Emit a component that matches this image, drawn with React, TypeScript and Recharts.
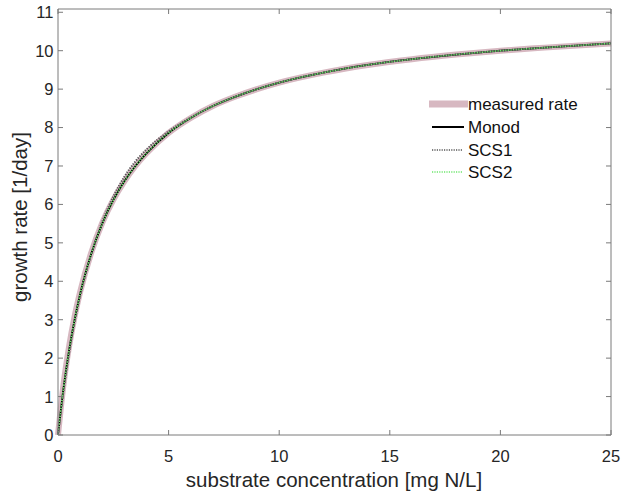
import * as React from "react";
import { Line, LineChart, XAxis, YAxis } from "recharts";

// substrate concentration [mg N/L]
const substrate = [0, 0.25, 0.5, 0.75, 1, 1.5, 2, 2.5, 3, 3.5, 4, 5, 6, 7, 8, 9, 10, 12, 14, 16, 18, 20, 22, 25];
// growth rates [1/day]
const measuredRate = [0, 1.32, 2.3, 3.08, 3.72, 4.74, 5.52, 6.12, 6.6, 7.0, 7.33, 7.86, 8.25, 8.56, 8.8, 9.0, 9.17, 9.43, 9.63, 9.78, 9.9, 10.0, 10.08, 10.19];
const monod = [0, 1.22, 2.2, 3.0, 3.67, 4.71, 5.5, 6.11, 6.6, 7.0, 7.33, 7.86, 8.25, 8.56, 8.8, 9.0, 9.17, 9.43, 9.63, 9.78, 9.9, 10.0, 10.08, 10.19];
const scs1 = [0, 1.15, 2.12, 2.95, 3.62, 4.7, 5.55, 6.2, 6.72, 7.12, 7.43, 7.9, 8.26, 8.56, 8.8, 9.0, 9.17, 9.43, 9.63, 9.78, 9.9, 10.0, 10.08, 10.19];
const scs2 = [0, 1.22, 2.2, 3.0, 3.67, 4.71, 5.5, 6.11, 6.6, 7.0, 7.33, 7.86, 8.25, 8.56, 8.8, 9.0, 9.17, 9.43, 9.63, 9.78, 9.9, 10.0, 10.08, 10.19];

const xTicks = [0, 5, 10, 15, 20, 25];
const yTicks = [0, 1, 2, 3, 4, 5, 6, 7, 8, 9, 10, 11];
const yMax = 11.085;

const data = substrate.map((s, i) => ({
  s,
  measured: measuredRate[i],
  monod: monod[i],
  scs1: scs1[i],
  scs2: scs2[i],
}));

const AXIS = "#7a7a7a";
const TEXT = "#262626";
const FONT = "'Liberation Sans', Arial, Helvetica, sans-serif";
const PINK = "#d7b8c1";

const BottomTick = (props: any) => {
  const { x, y, payload } = props;
  return (
    <g>
      <line x1={x} y1={y} x2={x} y2={y - 5} stroke={AXIS} strokeWidth={1} />
      <text x={x} y={y + 26.5} textAnchor="middle" fill={TEXT} fontSize={16.5} fontFamily={FONT}>
        {payload.value}
      </text>
    </g>
  );
};

const TopTick = (props: any) => {
  const { x, y } = props;
  return <line x1={x} y1={y} x2={x} y2={y + 5} stroke={AXIS} strokeWidth={1} />;
};

const LeftTick = (props: any) => {
  const { x, y, payload } = props;
  return (
    <g>
      <line x1={x} y1={y} x2={x + 5} y2={y} stroke={AXIS} strokeWidth={1} />
      <text x={x - 4.5} y={y} dy="0.36em" textAnchor="end" fill={TEXT} fontSize={16.5} fontFamily={FONT}>
        {payload.value}
      </text>
    </g>
  );
};

const RightTick = (props: any) => {
  const { x, y } = props;
  return <line x1={x} y1={y} x2={x - 5} y2={y} stroke={AXIS} strokeWidth={1} />;
};

const Overlay = () => {
  const items = [
    { name: "measured rate", color: PINK, width: 7, dash: undefined, x1: 429, x2: 468 },
    { name: "Monod", color: "#000", width: 2, dash: undefined, x1: 432, x2: 464 },
    { name: "SCS1", color: "#555", width: 1.5, dash: "1.2 1.2", x1: 432, x2: 462 },
    { name: "SCS2", color: "#6ee66e", width: 1.5, dash: "1.2 1.2", x1: 432, x2: 462 },
  ];
  const ys = [104, 127, 150, 172];
  return (
    <svg width={622} height={495} style={{ position: "absolute", left: 0, top: 0, pointerEvents: "none" }}>
      {items.map((it, i) => (
        <g key={it.name}>
          <line x1={it.x1} x2={it.x2} y1={ys[i]} y2={ys[i]} stroke={it.color} strokeWidth={it.width} strokeDasharray={it.dash} />
          <text x={468} y={ys[i]} dy="0.36em" fill="#111" fontSize={17} fontFamily={FONT}>
            {it.name}
          </text>
        </g>
      ))}
      <text x={334} y={486.5} textAnchor="middle" fill={TEXT} fontSize={20.5} fontFamily={FONT}>
        substrate concentration [mg N/L]
      </text>
      <text transform="translate(26.5,217) rotate(-90)" textAnchor="middle" fill={TEXT} fontSize={20.5} fontFamily={FONT}>
        growth rate [1/day]
      </text>
    </svg>
  );
};

export default function App() {
  return (
    <div style={{ position: "absolute", left: 0, top: 0, width: 622, height: 495, background: "#fff" }}>
      <LineChart width={622} height={495} data={data} margin={{ top: 8, right: 10, bottom: 0, left: 0 }}>
        <XAxis
          dataKey="s"
          type="number"
          domain={[0, 25]}
          ticks={xTicks}
          interval={0}
          height={60}
          tickSize={0}
          tickMargin={0}
          tickLine={false}
          stroke={AXIS}
          tick={<BottomTick />}
        />
        <XAxis
          xAxisId="top"
          dataKey="s"
          orientation="top"
          type="number"
          domain={[0, 25]}
          allowDataOverflow
          ticks={xTicks}
          interval={0}
          height={1}
          tickSize={0}
          tickMargin={0}
          tickLine={false}
          stroke={AXIS}
          tick={<TopTick />}
        />
        <YAxis
          type="number"
          domain={[0, yMax]}
          allowDataOverflow
          ticks={yTicks}
          interval={0}
          width={58}
          tickSize={0}
          tickMargin={0}
          tickLine={false}
          stroke={AXIS}
          tick={<LeftTick />}
        />
        <YAxis
          yAxisId="right"
          orientation="right"
          type="number"
          domain={[0, yMax]}
          allowDataOverflow
          ticks={yTicks}
          interval={0}
          width={1}
          tickSize={0}
          tickMargin={0}
          tickLine={false}
          stroke={AXIS}
          tick={<RightTick />}
        />
        <Line xAxisId="top" yAxisId="right" dataKey="monod" stroke="none" strokeWidth={0} dot={false} legendType="none" isAnimationActive={false} />
        <Line dataKey="measured" type="monotone" stroke={PINK} strokeWidth={6} dot={false} isAnimationActive={false} />
        <Line dataKey="monod" type="monotone" stroke="#000" strokeWidth={1.8} dot={false} isAnimationActive={false} />
        <Line dataKey="scs1" type="monotone" stroke="#555" strokeWidth={2} strokeDasharray="1.3 1.3" dot={false} isAnimationActive={false} />
        <Line dataKey="scs2" type="monotone" stroke="#6ee66e" strokeWidth={1.6} strokeDasharray="1.3 1.3" dot={false} isAnimationActive={false} />
      </LineChart>
      <Overlay />
    </div>
  );
}
